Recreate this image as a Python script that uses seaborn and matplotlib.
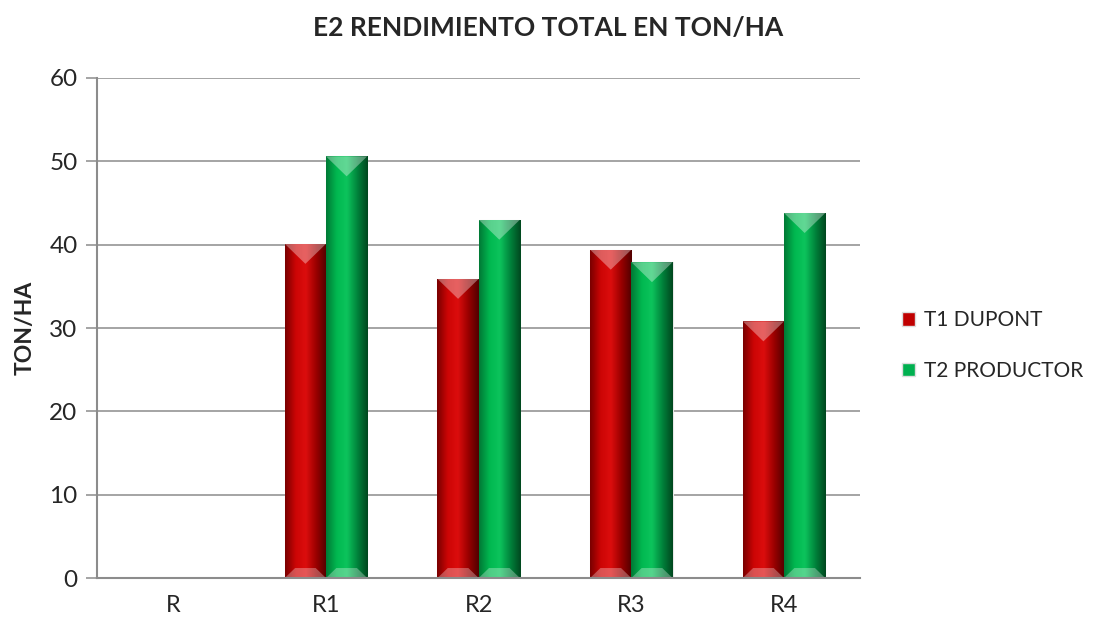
import numpy as np
import pandas as pd
import matplotlib
matplotlib.use("Agg")
import matplotlib.pyplot as plt
import seaborn as sns
from matplotlib.colors import LinearSegmentedColormap
from matplotlib.patches import Polygon, Patch

# datos
repeticiones = ["R", "R1", "R2", "R3", "R4"]
t1_dupont = [0, 40.1, 35.9, 39.4, 30.8]
t2_productor = [0, 50.6, 43.0, 37.9, 43.8]
tratamientos = ["T1 DUPONT", "T2 PRODUCTOR"]

df = pd.DataFrame({
    "rep": repeticiones * 2,
    "ton": t1_dupont + t2_productor,
    "trat": [tratamientos[0]] * 5 + [tratamientos[1]] * 5,
})

colores = {"T1 DUPONT": "#C00000", "T2 PRODUCTOR": "#00B050"}
gradientes = {
    "T1 DUPONT": ["#7a0000", "#cc0505", "#dc0d0d", "#9a0000", "#520000"],
    "T2 PRODUCTOR": ["#007a36", "#00b850", "#0cc45c", "#00843c", "#00481f"],
}

sns.set_style("white")
plt.rcParams["font.family"] = ["Lato", "DejaVu Sans"]

fig = plt.figure(figsize=(10.96, 6.22), dpi=100)
ax = fig.add_axes([0.0885, 0.0707, 0.6965, 0.8039])

sns.barplot(data=df, x="rep", y="ton", hue="trat", palette=colores,
            width=0.54, gap=0, ax=ax, legend=False, saturation=1)

ax.set_ylim(0, 60)
ax.set_xlim(-0.5, 4.5)

# efecto biselado en cada barra
for cont, trat in zip(ax.containers, tratamientos):
    cmap = LinearSegmentedColormap.from_list(trat, gradientes[trat])
    grad = np.linspace(0, 1, 64).reshape(1, -1)
    for bar in cont:
        h = bar.get_height()
        if not h or np.isnan(h):
            continue
        x0, w = bar.get_x(), bar.get_width()
        im = ax.imshow(grad, cmap=cmap, aspect="auto", extent=[x0, x0 + w, 0, h],
                       zorder=bar.get_zorder() + 0.1, interpolation="bicubic")
        im.set_clip_path(bar)
        dy = 2.4  # altura del triangulo superior
        top = Polygon([[x0, h], [x0 + w, h], [x0 + w / 2, h - dy]], closed=True,
                      facecolor="white", alpha=0.35, edgecolor="none",
                      zorder=bar.get_zorder() + 0.2)
        ax.add_patch(top)
        bot = Polygon([[x0, 0], [x0 + w, 0], [x0 + w * 0.75, dy * 0.5], [x0 + w * 0.25, dy * 0.5]],
                      closed=True, facecolor="white", alpha=0.3, edgecolor="none",
                      zorder=bar.get_zorder() + 0.2)
        ax.add_patch(bot)
        bar.set_edgecolor("#e8e8e8")
        bar.set_linewidth(0.8)

ax.set_ylim(0, 60)
ax.set_xlim(-0.5, 4.5)
ax.set_yticks(range(0, 61, 10))
ax.yaxis.grid(True, color="#8c8c8c", linewidth=1.1)
ax.set_axisbelow(True)
for s in ["top", "right"]:
    ax.spines[s].set_visible(False)
for s in ["left", "bottom"]:
    ax.spines[s].set_color("#8c8c8c")
    ax.spines[s].set_linewidth(1.5)
ax.tick_params(axis="y", length=8, color="#8c8c8c", width=1.1, labelsize=17.5, left=True, pad=6)
ax.tick_params(axis="x", length=0, labelsize=17, pad=12)
ax.set_xlabel("")
ax.set_ylabel("TON/HA", fontsize=16.5, fontweight="bold", labelpad=10)
fig.suptitle("E2 RENDIMIENTO TOTAL EN TON/HA", fontsize=19, fontweight="bold",
             x=0.5, y=0.975, va="top")

handles = [Patch(facecolor=colores[t], edgecolor="#dddddd") for t in tratamientos]
ax.legend(handles, tratamientos, loc="center left", bbox_to_anchor=(1.03, 0.465),
          frameon=False, fontsize=15, handlelength=0.6, handleheight=0.6,
          handletextpad=0.45, labelspacing=1.45)

fig.savefig("out.png", dpi=100)
